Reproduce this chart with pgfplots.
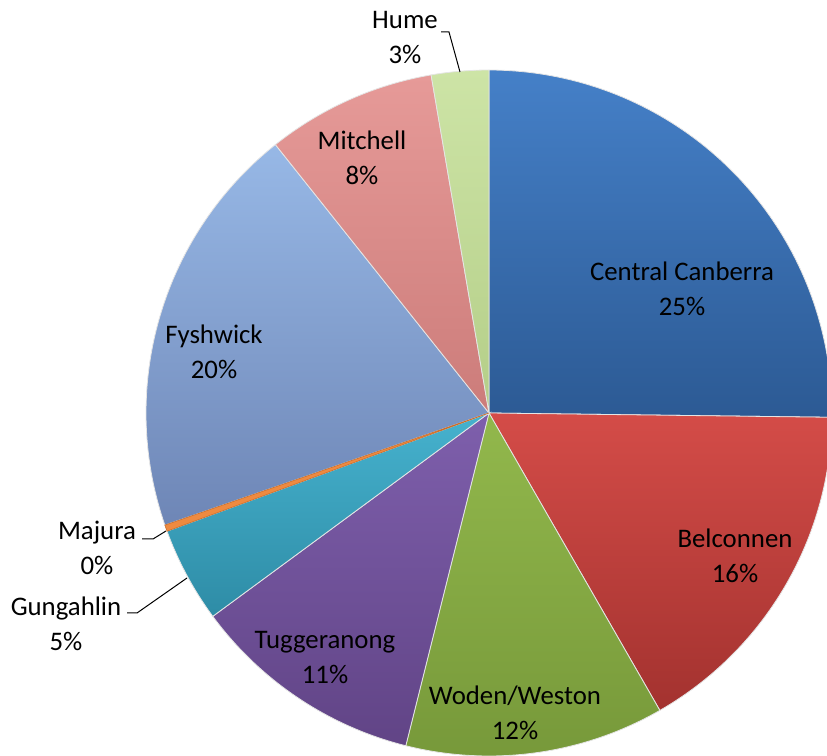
\documentclass[border=0pt]{standalone}
\usepackage{pgfplots}
\usepackage{pgfplotstable}
\pgfplotsset{compat=1.18}
\usepackage{fontspec}
\setmainfont{Carlito}

\pgfplotstableread{
region value
CentralCanberra 25.2
Belconnen 16.5
WodenWeston 12.2
Tuggeranong 11.0
Gungahlin 4.5
Majura 0.3
Fyshwick 19.6
Mitchell 8.0
Hume 2.7
}\piedata

\newcommand\getv[2]{\pgfplotstablegetelem{#1}{value}\of\piedata\global\let#2\pgfplotsretval}
\getv{0}\vA \getv{1}\vB \getv{2}\vC \getv{3}\vD \getv{4}\vE%
\getv{5}\vF \getv{6}\vG \getv{7}\vH \getv{8}\vI%
\pgfmathsetmacro\aA{90}%
\pgfmathsetmacro\aB{\aA-3.6*\vA}%
\pgfmathsetmacro\aC{\aB-3.6*\vB}%
\pgfmathsetmacro\aD{\aC-3.6*\vC}%
\pgfmathsetmacro\aE{\aD-3.6*\vD}%
\pgfmathsetmacro\aF{\aE-3.6*\vE}%
\pgfmathsetmacro\aG{\aF-3.6*\vF}%
\pgfmathsetmacro\aH{\aG-3.6*\vG}%
\pgfmathsetmacro\aI{\aH-3.6*\vH}%
\pgfmathsetmacro\aJ{\aI-3.6*\vI}%

\definecolor{ccT}{HTML}{4580C8}\definecolor{ccB}{HTML}{2C5A94}
\definecolor{beT}{HTML}{D44C48}\definecolor{beB}{HTML}{A3322F}
\definecolor{woT}{HTML}{92B84C}\definecolor{woB}{HTML}{77993A}
\definecolor{tuT}{HTML}{7E5FAC}\definecolor{tuB}{HTML}{614486}
\definecolor{guT}{HTML}{46B2CE}\definecolor{guB}{HTML}{2E8CA6}
\definecolor{maT}{HTML}{EE8A40}\definecolor{maB}{HTML}{C86E2C}
\definecolor{fyT}{HTML}{97B8E6}\definecolor{fyB}{HTML}{6E86B6}
\definecolor{miT}{HTML}{E69A98}\definecolor{miB}{HTML}{CC7C7A}
\definecolor{huT}{HTML}{CDE4A6}\definecolor{huB}{HTML}{B4CE88}

\begin{document}%
\begin{tikzpicture}
\begin{axis}[
  width=413.5pt, height=378pt, scale only axis,
  xmin=0, xmax=827, ymin=0, ymax=756,
  axis line style={draw=none}, ticks=none,
  every axis plot/.append style={draw=white!80!gray, line width=0.4pt, samples=80, variable=\t},
]
\addplot[top color=ccT, bottom color=ccB, domain=\aB:\aA] ({489+343*cos(\t)},{343+343*sin(\t)}) -- (489,343) -- cycle;
\addplot[top color=beT, bottom color=beB, domain=\aC:\aB] ({489+343*cos(\t)},{343+343*sin(\t)}) -- (489,343) -- cycle;
\addplot[top color=woT, bottom color=woB, domain=\aD:\aC] ({489+343*cos(\t)},{343+343*sin(\t)}) -- (489,343) -- cycle;
\addplot[top color=tuT, bottom color=tuB, domain=\aE:\aD] ({489+343*cos(\t)},{343+343*sin(\t)}) -- (489,343) -- cycle;
\addplot[top color=guT, bottom color=guB, domain=\aF:\aE] ({489+343*cos(\t)},{343+343*sin(\t)}) -- (489,343) -- cycle;
\addplot[top color=fyT, bottom color=fyB, domain=\aH:\aG] ({489+343*cos(\t)},{343+343*sin(\t)}) -- (489,343) -- cycle;
\addplot[top color=miT, bottom color=miB, domain=\aI:\aH] ({489+343*cos(\t)},{343+343*sin(\t)}) -- (489,343) -- cycle;
\addplot[top color=huT, bottom color=huB, domain=\aJ:\aI] ({489+343*cos(\t)},{343+343*sin(\t)}) -- (489,343) -- cycle;
\addplot[fill=maT, draw=maB, line width=0.3pt, domain=\aG:\aF, samples=5] ({489+343*cos(\t)},{343+343*sin(\t)}) -- (489,343) -- cycle;

\begin{scope}[every node/.style={align=center, font=\fontsize{13.4}{17.5}\selectfont, text=black, inner sep=0pt}]
\node at (682,467) {Central Canberra\\25\%};
\node at (735,200) {Belconnen\\16\%};
\node at (515,43) {Woden/Weston\\12\%};
\node at (325,98) {Tuggeranong\\11\%};
\node at (214,404) {Fyshwick\\20\%};
\node at (362,598) {Mitchell\\8\%};
\node at (405,718) {Hume\\3\%};
\node at (97,208) {Majura\\0\%};
\node at (66,132) {Gungahlin\\5\%};
\end{scope}
\draw[black, line width=0.5pt] (441,724) -- (449,724) -- (460,684);
\draw[black, line width=0.5pt] (142,217) -- (153,217) -- (166,225);
\draw[black, line width=0.5pt] (127,143) -- (137,143) -- (187,178);
\end{axis}
\pgfresetboundingbox
\path (current axis.south west) rectangle (current axis.north east);
\end{tikzpicture}%
\end{document}
